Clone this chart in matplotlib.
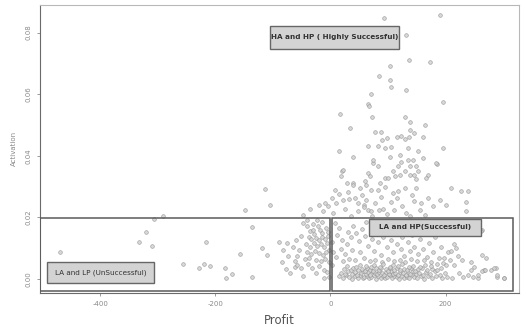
"""Profit vs activation scatter with success quadrants."""
import matplotlib
import matplotlib.pyplot as plt
from matplotlib.patches import Rectangle

matplotlib.use("Agg")

# sparse loss-making campaigns
loss_profit = [-471, -306, -292, -320, -333, -311, -257, -220, -209, -229, -183,
               -172, -182, -137, -217, -157, -119, -111, -137, -149, -106, -114]
loss_act = [0.0087, 0.0195, 0.0203, 0.0152, 0.0120, 0.0108, 0.0049, 0.0047,
            0.0041, 0.0034, 0.0034, 0.0017, 0.0002, 0.0006, 0.0118, 0.0081,
            0.0100, 0.0076, 0.0168, 0.0224, 0.0240, 0.0292]

# cluster just below zero profit
near_profit = [-75, -83, -74, -58, -78, -70, -62, -58, -52, -47, -39, -32, -26,
               -12, -3, -47, -41, -24, -13, -10, -40, -35, -30, -28, -22, -18,
               -15, -8, -5, -38, -33, -26, -20, -14, -9, -4, -42, -36, -29, -23,
               -17, -11, -6, -2, -40, -33, -27, -20, -13, -7, -45, -37, -25, -16,
               -9, -3, -20, -12, -6, -30, -15, -52, -60, -66, -55, -48, -35, -20,
               -5, -62, -85, -90]
near_act = [0.0116, 0.0094, 0.0075, 0.0073, 0.0032, 0.0020, 0.0040, 0.0046,
            0.0035, 0.0010, 0.0049, 0.0035, 0.0019, 0.0002, 0.0007, 0.0208,
            0.0192, 0.0192, 0.0221, 0.0246, 0.0170, 0.0155, 0.0160, 0.0145,
            0.0170, 0.0158, 0.0148, 0.0165, 0.0152, 0.0135, 0.0128, 0.0132,
            0.0125, 0.0135, 0.0128, 0.0138, 0.0112, 0.0105, 0.0115, 0.0108,
            0.0112, 0.0102, 0.0115, 0.0095, 0.0088, 0.0082, 0.0092, 0.0085,
            0.0078, 0.0088, 0.0065, 0.0068, 0.0062, 0.0058, 0.0066, 0.0055,
            0.0042, 0.0030, 0.0022, 0.0178, 0.0185, 0.0138, 0.0125, 0.0105,
            0.0095, 0.0180, 0.0228, 0.0240, 0.0235, 0.0058, 0.0055, 0.0120]

# high activation campaigns
high_profit = [93, 191, 131, 136, 173, 103, 85, 104, 105, 132, 71, 195, 65, 67,
               17, 73, 130, 138, 165, 34, 77, 87, 139, 146, 89, 99, 116, 122,
               129, 137, 161, 65, 82, 95, 105, 195, 135, 14, 40, 103, 120, 135,
               143, 152, 161, 186, 138, 149, 152, 74, 20, 18, 66, 69, 60, 109,
               112, 120, 129, 138, 146, 149, 169, 40, 95, 14, 30, 32, 40, 48,
               59, 66, 70, 83, 74, 71, 86, 100, 109, 118, 123, 129, 141, 149,
               158, 166, 184, 190, 201, 210, 227, 239, 236, 236, 264, 21]
high_act = [0.0848, 0.0856, 0.0791, 0.0710, 0.0705, 0.0693, 0.0658, 0.0647,
            0.0622, 0.0615, 0.0601, 0.0575, 0.0568, 0.0560, 0.0537, 0.0526,
            0.0526, 0.0508, 0.0499, 0.0490, 0.0477, 0.0477, 0.0485, 0.0474,
            0.0452, 0.0458, 0.0460, 0.0463, 0.0454, 0.0460, 0.0461, 0.0433,
            0.0430, 0.0425, 0.0427, 0.0425, 0.0425, 0.0416, 0.0395, 0.0395,
            0.0401, 0.0387, 0.0387, 0.0416, 0.0392, 0.0374, 0.0365, 0.0365,
            0.0349, 0.0376, 0.0351, 0.0333, 0.0344, 0.0333, 0.0319, 0.0351,
            0.0333, 0.0338, 0.0349, 0.0338, 0.0338, 0.0325, 0.0338, 0.0311,
            0.0327, 0.0275, 0.0282, 0.0259, 0.0306, 0.0219, 0.0240, 0.0224,
            0.0219, 0.0365, 0.0387, 0.0289, 0.0311, 0.0327, 0.0279, 0.0365,
            0.0381, 0.0295, 0.0273, 0.0295, 0.0246, 0.0327, 0.0376, 0.0257,
            0.0240, 0.0295, 0.0284, 0.0284, 0.0251, 0.0219, 0.0159, 0.0354]

# mid band, just above the successful box
mid_profit = [5, 10, 25, 35, 42, 55, 62, 78, 88, 92, 98, 105, 115, 125, 132,
              145, 155, 170, 178, 52, 82, 95, 118, 62, 28, 8, 48, 72, 138, 165,
              110, 85, 22, 3, 58]
mid_act = [0.0215, 0.0245, 0.0228, 0.0205, 0.0262, 0.0272, 0.0255, 0.0245,
           0.0265, 0.0228, 0.0212, 0.0248, 0.0262, 0.0238, 0.0215, 0.0252,
           0.0225, 0.0262, 0.0238, 0.0295, 0.0288, 0.0298, 0.0285, 0.0305,
           0.0312, 0.0290, 0.0245, 0.0205, 0.0205, 0.0208, 0.0225, 0.0222,
           0.0255, 0.0262, 0.0232]

# inside the successful box, moderate activation
box_profit = [8, 15, 12, 20, 18, 25, 10, 30, 35, 28, 40, 45, 38, 50, 55, 52,
              60, 65, 62, 70, 72, 75, 80, 82, 85, 88, 92, 95, 98, 102, 105, 108,
              112, 115, 118, 122, 125, 128, 132, 135, 138, 142, 145, 148, 152,
              155, 160, 165, 168, 172, 178, 182, 188, 192, 22, 32, 42, 58, 68,
              78, 90, 100, 110, 120, 130, 140, 150, 162, 175, 185, 205, 228,
              245, 158, 188, 198, 2, 5, 3, 215, 218, 210, 198, 195, 201, 192,
              215, 262, 264, 270, 250, 279, 288, 267, 244, 221, 207]
box_act = [0.0180, 0.0165, 0.0142, 0.0125, 0.0098, 0.0082, 0.0072, 0.0152,
           0.0135, 0.0112, 0.0172, 0.0148, 0.0095, 0.0122, 0.0162, 0.0088,
           0.0140, 0.0108, 0.0185, 0.0155, 0.0128, 0.0092, 0.0172, 0.0118,
           0.0145, 0.0078, 0.0135, 0.0165, 0.0105, 0.0185, 0.0125, 0.0088,
           0.0148, 0.0112, 0.0172, 0.0098, 0.0135, 0.0075, 0.0158, 0.0118,
           0.0092, 0.0142, 0.0105, 0.0172, 0.0082, 0.0128, 0.0098, 0.0148,
           0.0072, 0.0115, 0.0088, 0.0135, 0.0068, 0.0105, 0.0058, 0.0065,
           0.0062, 0.0068, 0.0058, 0.0062, 0.0055, 0.0065, 0.0058, 0.0062,
           0.0055, 0.0065, 0.0058, 0.0062, 0.0055, 0.0048, 0.0088, 0.0062,
           0.0055, 0.0188, 0.0178, 0.0158, 0.0120, 0.0088, 0.0045, 0.0113,
           0.0100, 0.0091, 0.0067, 0.0051, 0.0046, 0.0035, 0.0046, 0.0156,
           0.0078, 0.0069, 0.0040, 0.0029, 0.0035, 0.0029, 0.0029, 0.0073,
           0.0062]

# dense band of low activation, positive profit
low_profit = [14, 22, 27, 33, 38, 43, 47, 51, 56, 59, 63, 67, 71, 76, 79, 83,
              87, 91, 94, 99, 103, 107, 111, 116, 119, 124, 128, 133, 137, 141,
              146, 151, 157, 163, 169, 176, 184, 193, 203, 212,
              18, 26, 31, 37, 42, 46, 53, 57, 61, 65, 69, 73, 77, 81, 85, 89,
              93, 97, 101, 105, 109, 113, 117, 121, 126, 131, 135, 139, 144,
              149, 154, 160, 166, 173, 181, 190, 199,
              24, 35, 40, 48, 55, 60, 64, 68, 74, 80, 84, 88, 96, 100, 104,
              110, 115, 120, 127, 133, 140, 147, 153, 159, 167, 177, 186,
              29, 44, 52, 62, 70, 76, 86, 92, 103, 108, 118, 125, 136, 143,
              156, 164, 174,
              224, 230, 239, 247, 256, 264, 268, 285, 290, 302, 256, 290, 302]
low_act = [0.0008, 0.0003, 0.0011, 0.0005, 0.0001, 0.0009, 0.0004, 0.0012,
           0.0002, 0.0007, 0.0010, 0.0003, 0.0006, 0.0011, 0.0001, 0.0008,
           0.0004, 0.0010, 0.0002, 0.0007, 0.0012, 0.0003, 0.0009, 0.0005,
           0.0001, 0.0010, 0.0004, 0.0007, 0.0002, 0.0011, 0.0006, 0.0003,
           0.0009, 0.0001, 0.0008, 0.0004, 0.0010, 0.0003, 0.0007, 0.0002,
           0.0020, 0.0015, 0.0024, 0.0017, 0.0022, 0.0014, 0.0019, 0.0025,
           0.0016, 0.0021, 0.0013, 0.0024, 0.0018, 0.0015, 0.0023, 0.0019,
           0.0014, 0.0022, 0.0017, 0.0025, 0.0015, 0.0020, 0.0013, 0.0023,
           0.0018, 0.0014, 0.0022, 0.0017, 0.0024, 0.0015, 0.0020, 0.0013,
           0.0022, 0.0017, 0.0024, 0.0014, 0.0020,
           0.0031, 0.0028, 0.0035, 0.0029, 0.0033, 0.0027, 0.0036, 0.0030,
           0.0027, 0.0034, 0.0029, 0.0036, 0.0031, 0.0027, 0.0034, 0.0030,
           0.0036, 0.0028, 0.0033, 0.0029, 0.0035, 0.0027, 0.0032, 0.0036,
           0.0029, 0.0033, 0.0028,
           0.0042, 0.0039, 0.0046, 0.0041, 0.0038, 0.0045, 0.0040, 0.0047,
           0.0039, 0.0044, 0.0041, 0.0047, 0.0038, 0.0043, 0.0040, 0.0046,
           0.0042,
           0.0019, 0.0007, 0.0011, 0.0007, 0.0004, 0.0024, 0.0029, 0.0035,
           0.0007, 0.0002, 0.0013, 0.0013, 0.0002]

profit = loss_profit + near_profit + high_profit + mid_profit + box_profit + low_profit
activation = loss_act + near_act + high_act + mid_act + box_act + low_act

fig = plt.figure(figsize=(5.26, 3.27), dpi=100)
ax = fig.add_axes([0.076, 0.105, 0.911, 0.880])
ax.set_xlim(-505, 328)
ax.set_ylim(-0.0045, 0.089)

ax.scatter(profit, activation, s=7, facecolors="#d2d2d2", edgecolors="#909090",
           linewidths=0.45, alpha=0.85, zorder=3)

# quadrant boxes
box_kw = dict(fill=False, edgecolor="#5a5a5a", lw=1.1, zorder=4)
ax.add_patch(Rectangle((-505, -0.0039), 505, 0.0237, **box_kw))
ax.add_patch(Rectangle((3.5, -0.0039), 314.5, 0.0235, **box_kw))

# label boxes
labels = [
    ("HA and HP ( Highly Successful)", -105, 0.0748, 224, 0.0075, "bold"),
    ("LA and HP(Successful)", 67, 0.0140, 194, 0.0055, "bold"),
    ("LA and LP (UnSuccessful)", -493, -0.0013, 187, 0.0068, "normal"),
]
for text, x0, y0, w, h, weight in labels:
    ax.add_patch(Rectangle((x0, y0), w, h, facecolor="#d3d3d3", edgecolor="#666666",
                           lw=1.0, zorder=5))
    ax.text(x0 + w / 2, y0 + h / 2, text, ha="center", va="center", fontsize=5.2,
            fontweight=weight, color="#333333", zorder=6)

ax.set_xticks([-400, -200, 0, 200])
ax.set_xticklabels(["-400", "-200", "0", "200"])
ax.set_yticks([0.0, 0.02, 0.04, 0.06, 0.08])
ax.set_yticklabels(["0.00", "0.02", "0.04", "0.06", "0.08"], rotation=90, va="center")
ax.tick_params(labelsize=5, colors="#8a8a8a", length=2.5, width=0.6)
for s in ax.spines.values():
    s.set_color("#b8b8b8")
    s.set_linewidth(0.8)
ax.spines["bottom"].set_color("#6a6a6a")
ax.spines["left"].set_color("#6a6a6a")

ax.set_xlabel("Profit", fontsize=8.5, color="#555555", labelpad=5)
ax.set_ylabel("Activation", fontsize=5, color="#8a8a8a", labelpad=6)

fig.savefig("out.png", dpi=100)
plt.close(fig)
